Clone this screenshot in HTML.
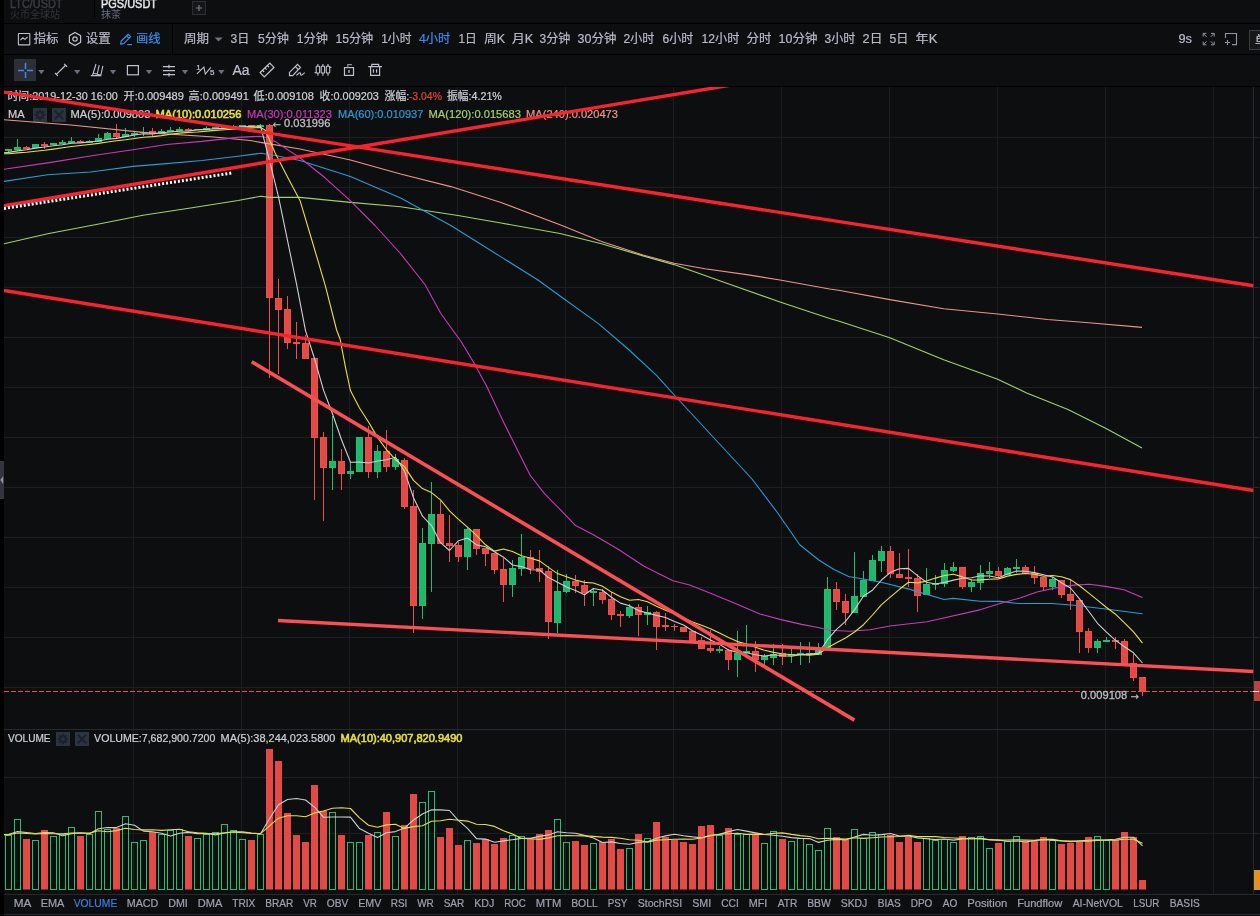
<!DOCTYPE html>
<html lang="zh"><head><meta charset="utf-8"><title>PGS/USDT</title>
<style>
html,body{margin:0;padding:0;background:#0d0e10;}
body{width:1260px;height:916px;overflow:hidden;position:relative;font-family:"Liberation Sans","Noto Sans CJK SC",sans-serif;}
svg{position:absolute;left:0;top:0;display:block;font-family:"Liberation Sans","Noto Sans CJK SC",sans-serif;}
</style></head><body>
<svg width="1260" height="916" viewBox="0 0 1260 916">
<defs><clipPath id="cm"><rect x="4" y="87" width="1249.5" height="642"/></clipPath>
<clipPath id="cv"><rect x="4" y="730" width="1249" height="164"/></clipPath>
<clipPath id="ct"><rect x="0" y="0" width="1260" height="23"/></clipPath>
<clipPath id="cb"><rect x="1249" y="30" width="11" height="20"/></clipPath></defs>
<rect width="1260" height="916" fill="#0d0e10"/>

<g id="sidebar-handle">
<rect x="0" y="0" width="4" height="916" fill="#000"/>
<rect x="0" y="461" width="4" height="38" fill="#33343c"/>
<path d="M3.2 476 L0.3 480 L3.2 484 Z" fill="#8f93a3"/>
</g><g id="symbol-tabs">
<g clip-path="url(#ct)">
<text x="10" y="7.7" font-size="13" fill="#3a3c42" textLength="52.6" lengthAdjust="spacingAndGlyphs"  stroke="#3a3c42" stroke-width="0.5">LTC/USDT</text>
<text x="10" y="18.2" font-size="10" fill="#33353b" textLength="50" lengthAdjust="spacingAndGlyphs" >火币全球站</text>
<rect x="94" y="0" width="1" height="17" fill="#000"/>
<text x="101" y="7.7" font-size="13" fill="#e6e7ea" textLength="56" lengthAdjust="spacingAndGlyphs"  stroke="#e6e7ea" stroke-width="0.5">PGS/USDT</text>
<text x="101" y="18.2" font-size="10" fill="#666b7e" textLength="20" lengthAdjust="spacingAndGlyphs" >抹茶</text>
<rect x="192.5" y="1.5" width="13" height="13" fill="#15161a" stroke="#2c2e34"/>
<path d="M196 8H202M199 5V11" stroke="#777a84" stroke-width="1.2" fill="none"/>
</g>
<rect x="0" y="23" width="1260" height="1" fill="#000"/>
<rect x="4" y="54" width="1256" height="1" fill="#000"/>
<rect x="4" y="86" width="1256" height="1" fill="#000"/>
<rect x="172" y="24" width="1" height="30" fill="#000"/>
</g><g id="toolbar-periods">
<rect x="18.4" y="33.5" width="11.4" height="11.4" rx="0.4" fill="none" stroke="#bcc1ce" stroke-width="1.1"/>
<path d="M20.4 40.2L22.8 37.8L25 39.4L27.6 36.8" fill="none" stroke="#bcc1ce" stroke-width="1.1"/>
<text x="33.5" y="43" font-size="12" fill="#b6bac6" textLength="25" lengthAdjust="spacingAndGlyphs"  stroke="#b6bac6" stroke-width="0.22">指标</text>
<path d="M75 32.4L80.6 35.7V42.3L75 45.6L69.4 42.3V35.7Z" fill="none" stroke="#bcc1ce" stroke-width="1.2"/>
<circle cx="75" cy="39" r="2.2" fill="none" stroke="#bcc1ce" stroke-width="1.2"/>
<text x="85.8" y="43" font-size="12" fill="#b6bac6" textLength="25" lengthAdjust="spacingAndGlyphs"  stroke="#b6bac6" stroke-width="0.22">设置</text>
<path d="M120.6 44.2L121.2 41L128.2 34.2L130.6 36.6L123.8 43.6Z M126.6 35.8L129 38.2" fill="none" stroke="#3d8bee" stroke-width="1.2" stroke-linejoin="round"/>
<path d="M127.3 44.6H132" stroke="#3d8bee" stroke-width="1.2"/>
<text x="136" y="43" font-size="12" fill="#3d8bee" textLength="24.5" lengthAdjust="spacingAndGlyphs"  stroke="#3d8bee" stroke-width="0.22">画线</text>
<text x="184" y="43" font-size="12" fill="#b6bac6" textLength="25" lengthAdjust="spacingAndGlyphs"  stroke="#b6bac6" stroke-width="0.22">周期</text>
<path d="M214.6 37.4H222.6L218.6 41.4Z" fill="#6f727c"/>
<text x="230.6" y="43" font-size="12" fill="#b6bac6" textLength="18.8" lengthAdjust="spacingAndGlyphs"  stroke="#b6bac6" stroke-width="0.22">3日</text>
<text x="257.9" y="43" font-size="12" fill="#b6bac6" textLength="31.0" lengthAdjust="spacingAndGlyphs"  stroke="#b6bac6" stroke-width="0.22">5分钟</text>
<text x="296.8" y="43" font-size="12" fill="#b6bac6" textLength="31.1" lengthAdjust="spacingAndGlyphs"  stroke="#b6bac6" stroke-width="0.22">1分钟</text>
<text x="335.4" y="43" font-size="12" fill="#b6bac6" textLength="37.8" lengthAdjust="spacingAndGlyphs"  stroke="#b6bac6" stroke-width="0.22">15分钟</text>
<text x="381.3" y="43" font-size="12" fill="#b6bac6" textLength="30.2" lengthAdjust="spacingAndGlyphs"  stroke="#b6bac6" stroke-width="0.22">1小时</text>
<text x="419.0" y="43" font-size="12" fill="#3d8bee" textLength="31.4" lengthAdjust="spacingAndGlyphs"  stroke="#3d8bee" stroke-width="0.22">4小时</text>
<text x="458.5" y="43" font-size="12" fill="#b6bac6" textLength="18.3" lengthAdjust="spacingAndGlyphs"  stroke="#b6bac6" stroke-width="0.22">1日</text>
<text x="484.3" y="43" font-size="12" fill="#b6bac6" textLength="20.8" lengthAdjust="spacingAndGlyphs"  stroke="#b6bac6" stroke-width="0.22">周K</text>
<text x="512.1" y="43" font-size="12" fill="#b6bac6" textLength="21.3" lengthAdjust="spacingAndGlyphs"  stroke="#b6bac6" stroke-width="0.22">月K</text>
<text x="539.6" y="43" font-size="12" fill="#b6bac6" textLength="30.8" lengthAdjust="spacingAndGlyphs"  stroke="#b6bac6" stroke-width="0.22">3分钟</text>
<text x="577.6" y="43" font-size="12" fill="#b6bac6" textLength="38.8" lengthAdjust="spacingAndGlyphs"  stroke="#b6bac6" stroke-width="0.22">30分钟</text>
<text x="623.6" y="43" font-size="12" fill="#b6bac6" textLength="30.8" lengthAdjust="spacingAndGlyphs"  stroke="#b6bac6" stroke-width="0.22">2小时</text>
<text x="662.6" y="43" font-size="12" fill="#b6bac6" textLength="30.8" lengthAdjust="spacingAndGlyphs"  stroke="#b6bac6" stroke-width="0.22">6小时</text>
<text x="701.6" y="43" font-size="12" fill="#b6bac6" textLength="37.8" lengthAdjust="spacingAndGlyphs"  stroke="#b6bac6" stroke-width="0.22">12小时</text>
<text x="746.6" y="43" font-size="12" fill="#b6bac6" textLength="24.8" lengthAdjust="spacingAndGlyphs"  stroke="#b6bac6" stroke-width="0.22">分时</text>
<text x="778.6" y="43" font-size="12" fill="#b6bac6" textLength="38.8" lengthAdjust="spacingAndGlyphs"  stroke="#b6bac6" stroke-width="0.22">10分钟</text>
<text x="824.6" y="43" font-size="12" fill="#b6bac6" textLength="30.8" lengthAdjust="spacingAndGlyphs"  stroke="#b6bac6" stroke-width="0.22">3小时</text>
<text x="862.6" y="43" font-size="12" fill="#b6bac6" textLength="19.8" lengthAdjust="spacingAndGlyphs"  stroke="#b6bac6" stroke-width="0.22">2日</text>
<text x="889.6" y="43" font-size="12" fill="#b6bac6" textLength="18.8" lengthAdjust="spacingAndGlyphs"  stroke="#b6bac6" stroke-width="0.22">5日</text>
<text x="915.6" y="43" font-size="12" fill="#b6bac6" textLength="21.8" lengthAdjust="spacingAndGlyphs"  stroke="#b6bac6" stroke-width="0.22">年K</text>
<text x="1178.5" y="43" font-size="12" fill="#b6bac6" textLength="13.5" lengthAdjust="spacingAndGlyphs"  stroke="#b6bac6" stroke-width="0.22">9s</text>
<path d="M1203.2 36.6V33.4H1206.4M1203.4 33.6L1206.6 36.8 M1211 33.4H1214.2V36.6M1214 33.6L1210.8 36.8 M1203.2 41.6V44.8H1206.4M1203.4 44.6L1206.6 41.4 M1211 44.8H1214.2V41.6M1214 44.6L1210.8 41.4" fill="none" stroke="#8f93a3" stroke-width="1"/>
<path d="M1225.5 38V33.5H1236.5V44.6H1232 M1225 42.5H1230M1227.5 40V45" fill="none" stroke="#8f93a3" stroke-width="1.1"/>
<rect x="1249.5" y="30.5" width="14" height="19" fill="#17181b" stroke="#3a3c44"/>
<g clip-path="url(#cb)">
<text x="1255" y="45" font-size="12" fill="#c4c8d2"  stroke="#c4c8d2" stroke-width="0.22">单</text>
</g>
</g><g id="toolbar-drawing">
<rect x="14" y="59" width="22" height="22" fill="#2d2e36"/>
<path d="M18 70.5H24M27 70.5H33M25.5 63V69M25.5 72V78" stroke="#3d8bee" stroke-width="1.5" fill="none"/>
<path d="M38.099999999999994 70.1H44.5L41.3 74.2Z" fill="#6b6d7a"/>
<path d="M56.4 74.4L65.6 65.3 M55 73L57.9 75.9 M64.1 63.9L67.1 66.8" stroke="#bcc1ce" stroke-width="1.2" fill="none"/>
<path d="M74.0 70.1H80.4L77.2 74.2Z" fill="#6b6d7a"/>
<path d="M90.8 75.6H101.4 M92.5 75.5L96 64 M97.2 74L99.2 65.2 M100.8 75.5L102.9 65.8 M93 73L101 75.2" stroke="#bcc1ce" stroke-width="1.1" fill="none"/>
<path d="M109.8 70.1H116.2L113 74.2Z" fill="#6b6d7a"/>
<rect x="127.4" y="65.6" width="11" height="9.2" fill="none" stroke="#bcc1ce" stroke-width="1.2"/>
<path d="M145.8 70.1H152.2L149 74.2Z" fill="#6b6d7a"/>
<path d="M163 66.6H175M163 70.6H175M163 74.6H175M169 64.8V68.2M169 73V76.4" stroke="#bcc1ce" stroke-width="1.2" fill="none"/>
<path d="M181.8 70.1H188.2L185 74.2Z" fill="#6b6d7a"/>
<path d="M196.9 73.9L203.9 67.2L205.3 74.1L210.8 67.3" stroke="#bcc1ce" stroke-width="1.1" fill="none"/>
<text x="196.2" y="70" font-size="8" fill="#bcc1ce"  stroke="#bcc1ce" stroke-width="0.22">1</text>
<text x="210" y="74.5" font-size="8" fill="#bcc1ce"  stroke="#bcc1ce" stroke-width="0.22">5</text>
<path d="M218.10000000000002 70.1H224.5L221.3 74.2Z" fill="#6b6d7a"/>
<text x="232.6" y="74.8" font-size="14" fill="#bcc1ce" textLength="17" lengthAdjust="spacingAndGlyphs"  stroke="#bcc1ce" stroke-width="0.22">Aa</text>
<g transform="rotate(-44.5 267.05 70)" fill="none" stroke="#bcc1ce" stroke-width="1.2"><rect x="260.25" y="67" width="13.6" height="6"/><path d="M263.6 67V69.4M267 67V69.4M270.4 67V69.4"/></g>
<path d="M289.5 75.7V72.4L297.5 64.4L300.4 67.4L292.6 75.7Z M295.4 66.6L298.3 69.6" fill="none" stroke="#bcc1ce" stroke-width="1.2" stroke-linejoin="miter"/>
<path d="M296.4 75.4L299.2 73C300.4 72.2 300.6 73.2 300.6 74.2C300.6 75.6 301.6 75.4 302.6 74.4L304.8 72.6" fill="none" stroke="#bcc1ce" stroke-width="1.1"/>
<path d="M317.9 64V75.8M322.9 64V75.8M328 64V75.8 M314.6 72.6H316.4 M329.6 67.4H331.4" stroke="#bcc1ce" stroke-width="1.1" fill="none"/>
<rect x="316.2" y="66.2" width="3.4" height="6.8" rx="0.6" fill="#0d0e10" stroke="#bcc1ce" stroke-width="1.1"/>
<rect x="321.2" y="66.2" width="3.4" height="6.8" rx="0.6" fill="#0d0e10" stroke="#bcc1ce" stroke-width="1.1"/>
<rect x="326.3" y="66.2" width="3.4" height="6.8" rx="0.6" fill="#0d0e10" stroke="#bcc1ce" stroke-width="1.1"/>
<rect x="344.5" y="67.6" width="9" height="7.8" fill="none" stroke="#bcc1ce" stroke-width="1.2"/>
<path d="M347.8 67.4V64.6H351.9" fill="none" stroke="#8d919c" stroke-width="1.2"/>
<rect x="348" y="69.9" width="2" height="3" fill="#7d818c"/>
<path d="M368.2 66.6H382 M371.8 66.6V64.4H378.6V66.6 M370.6 66.6V75.4H379.6V66.6 M373.5 69.2V72.8M376.6 69.2V72.8" fill="none" stroke="#bcc1ce" stroke-width="1.2"/>
</g><g id="chart-grid">
<rect x="133.0" y="87" width="1" height="808" fill="#1d1e22"/>
<rect x="241.0" y="87" width="1" height="808" fill="#1d1e22"/>
<rect x="349.0" y="87" width="1" height="808" fill="#1d1e22"/>
<rect x="457.0" y="87" width="1" height="808" fill="#1d1e22"/>
<rect x="565.0" y="87" width="1" height="808" fill="#1d1e22"/>
<rect x="673.0" y="87" width="1" height="808" fill="#1d1e22"/>
<rect x="781.0" y="87" width="1" height="808" fill="#1d1e22"/>
<rect x="889.0" y="87" width="1" height="808" fill="#1d1e22"/>
<rect x="997.0" y="87" width="1" height="808" fill="#1d1e22"/>
<rect x="1105.0" y="87" width="1" height="808" fill="#1d1e22"/>
<rect x="1213.0" y="87" width="1" height="808" fill="#1d1e22"/>
<rect x="4" y="137" width="1255" height="1" fill="#1d1e22"/>
<rect x="4" y="187" width="1255" height="1" fill="#1d1e22"/>
<rect x="4" y="237" width="1255" height="1" fill="#1d1e22"/>
<rect x="4" y="287" width="1255" height="1" fill="#1d1e22"/>
<rect x="4" y="337" width="1255" height="1" fill="#1d1e22"/>
<rect x="4" y="387" width="1255" height="1" fill="#1d1e22"/>
<rect x="4" y="437" width="1255" height="1" fill="#1d1e22"/>
<rect x="4" y="487" width="1255" height="1" fill="#1d1e22"/>
<rect x="4" y="537" width="1255" height="1" fill="#1d1e22"/>
<rect x="4" y="587" width="1255" height="1" fill="#1d1e22"/>
<rect x="4" y="637" width="1255" height="1" fill="#1d1e22"/>
<rect x="4" y="687" width="1255" height="1" fill="#1d1e22"/>
<rect x="4" y="777" width="1255" height="1" fill="#1d1e22"/>
<rect x="4" y="833" width="1255" height="1" fill="#1d1e22"/>
<rect x="1253" y="87" width="1" height="808" fill="#28292f"/>
<rect x="1254" y="87" width="6" height="808" fill="#0d0e10"/>
<rect x="1254" y="137" width="5" height="1" fill="#28292f"/>
<rect x="1254" y="187" width="5" height="1" fill="#28292f"/>
<rect x="1254" y="237" width="5" height="1" fill="#28292f"/>
<rect x="1254" y="287" width="5" height="1" fill="#28292f"/>
<rect x="1254" y="337" width="5" height="1" fill="#28292f"/>
<rect x="1254" y="387" width="5" height="1" fill="#28292f"/>
<rect x="1254" y="437" width="5" height="1" fill="#28292f"/>
<rect x="1254" y="487" width="5" height="1" fill="#28292f"/>
<rect x="1254" y="537" width="5" height="1" fill="#28292f"/>
<rect x="1254" y="587" width="5" height="1" fill="#28292f"/>
<rect x="1254" y="637" width="5" height="1" fill="#28292f"/>
<rect x="1254" y="687" width="5" height="1" fill="#28292f"/>
<rect x="1254" y="777" width="5" height="1" fill="#28292f"/>
<rect x="1254" y="833" width="5" height="1" fill="#28292f"/>
<rect x="4" y="729" width="1256" height="1" fill="#28292f"/>
<rect x="4" y="894" width="1256" height="1" fill="#28292f"/>
<rect x="4" y="914" width="1256" height="1" fill="#28292f"/>
</g><g id="chart-legend">
<text x="7.5" y="100" font-size="11" fill="#cdd0d5" textLength="110.4" lengthAdjust="spacingAndGlyphs"  stroke="#cdd0d5" stroke-width="0.22">时间:2019-12-30 16:00</text>
<text x="123.6" y="100" font-size="11" fill="#cdd0d5" textLength="60.3" lengthAdjust="spacingAndGlyphs"  stroke="#cdd0d5" stroke-width="0.22">开:0.009489</text>
<text x="188.6" y="100" font-size="11" fill="#cdd0d5" textLength="60.3" lengthAdjust="spacingAndGlyphs"  stroke="#cdd0d5" stroke-width="0.22">高:0.009491</text>
<text x="253.6" y="100" font-size="11" fill="#cdd0d5" textLength="60.3" lengthAdjust="spacingAndGlyphs"  stroke="#cdd0d5" stroke-width="0.22">低:0.009108</text>
<text x="319.6" y="100" font-size="11" fill="#cdd0d5" textLength="59.3" lengthAdjust="spacingAndGlyphs"  stroke="#cdd0d5" stroke-width="0.22">收:0.009203</text>
<text x="384.6" y="100" font-size="11" fill="#cdd0d5" textLength="24.8" lengthAdjust="spacingAndGlyphs"  stroke="#cdd0d5" stroke-width="0.22">涨幅:</text>
<text x="408.9" y="100" font-size="11" fill="#e0443f" textLength="33.0" lengthAdjust="spacingAndGlyphs"  stroke="#e0443f" stroke-width="0.22">-3.04%</text>
<text x="447.1" y="100" font-size="11" fill="#cdd0d5" textLength="54.8" lengthAdjust="spacingAndGlyphs"  stroke="#cdd0d5" stroke-width="0.22">振幅:4.21%</text>
<text x="8" y="118" font-size="11" fill="#cdd0d5" textLength="16.6" lengthAdjust="spacingAndGlyphs"  stroke="#cdd0d5" stroke-width="0.22">MA</text>
<rect x="33" y="108" width="14" height="14" fill="#2c3440"/>
<rect x="52" y="108" width="14" height="14" fill="#2c3440"/>
<circle cx="40" cy="115" r="3.7" fill="#1e2128"/>
<path d="M40 109.7V120.3M34.7 115H45.3M36.25 111.25L43.75 118.75M43.75 111.25L36.25 118.75" stroke="#1e2128" stroke-width="2.1" fill="none"/>
<circle cx="40" cy="115" r="1.7" fill="#2c3440"/>
<path d="M54.8 110.8L63.2 119.2M63.2 110.8L54.8 119.2" stroke="#1e2128" stroke-width="2" fill="none"/>
<text x="70.6" y="118" font-size="11" fill="#cdd0d5" textLength="79.8" lengthAdjust="spacingAndGlyphs"  stroke="#cdd0d5" stroke-width="0.22">MA(5):0.009803</text>
<text x="155.6" y="118" font-size="11" fill="#e8e13a" textLength="85.8" lengthAdjust="spacingAndGlyphs"  stroke="#e8e13a" stroke-width="0.55">MA(10):0.010256</text>
<text x="247.1" y="118" font-size="11" fill="#c63cb5" textLength="84.8" lengthAdjust="spacingAndGlyphs"  stroke="#c63cb5" stroke-width="0.22">MA(30):0.011323</text>
<text x="338.1" y="118" font-size="11" fill="#2a9bd3" textLength="85.3" lengthAdjust="spacingAndGlyphs"  stroke="#2a9bd3" stroke-width="0.22">MA(60):0.010937</text>
<text x="428.6" y="118" font-size="11" fill="#a4cf6a" textLength="92.3" lengthAdjust="spacingAndGlyphs"  stroke="#a4cf6a" stroke-width="0.22">MA(120):0.015683</text>
<text x="526.1" y="118" font-size="11" fill="#e8958c" textLength="91.8" lengthAdjust="spacingAndGlyphs"  stroke="#e8958c" stroke-width="0.22">MA(240):0.020473</text>
</g><g id="chart-main">
<g clip-path="url(#cm)">
<rect x="8.0" y="149" width="1" height="3" fill="#21be72"/>
<rect x="5.0" y="149" width="7" height="2" fill="#21be72"/>
<rect x="17.0" y="139" width="1" height="11" fill="#21be72"/>
<rect x="14.5" y="147.5" width="6" height="2" fill="#1eb76b" stroke="#21be72" stroke-width="1"/>
<rect x="26.0" y="146" width="1" height="3" fill="#eb4f49"/>
<rect x="23.0" y="147" width="7" height="2" fill="#eb4f49"/>
<rect x="35.0" y="144" width="1" height="4" fill="#21be72"/>
<rect x="32.5" y="144.5" width="6" height="3" fill="#1eb76b" stroke="#21be72" stroke-width="1"/>
<rect x="44.0" y="142" width="1" height="7" fill="#eb4f49"/>
<rect x="41.0" y="144" width="7" height="2" fill="#eb4f49"/>
<rect x="53.0" y="143" width="1" height="2" fill="#21be72"/>
<rect x="50.0" y="143" width="7" height="2" fill="#21be72"/>
<rect x="62.0" y="140" width="1" height="4" fill="#21be72"/>
<rect x="59.0" y="142" width="7" height="2" fill="#21be72"/>
<rect x="71.0" y="137" width="1" height="6" fill="#21be72"/>
<rect x="68.0" y="141" width="7" height="2" fill="#21be72"/>
<rect x="80.0" y="140" width="1" height="3" fill="#eb4f49"/>
<rect x="77.0" y="141" width="7" height="2" fill="#eb4f49"/>
<rect x="89.0" y="140" width="1" height="3" fill="#21be72"/>
<rect x="86.0" y="141" width="7" height="2" fill="#21be72"/>
<rect x="98.0" y="134" width="1" height="8" fill="#21be72"/>
<rect x="95.5" y="138.5" width="6" height="3" fill="#1eb76b" stroke="#21be72" stroke-width="1"/>
<rect x="107.0" y="132" width="1" height="7" fill="#21be72"/>
<rect x="104.5" y="133.5" width="6" height="5" fill="#1eb76b" stroke="#21be72" stroke-width="1"/>
<rect x="116.0" y="124" width="1" height="14" fill="#eb4f49"/>
<rect x="113.5" y="133.5" width="6" height="3" fill="#e34a45" stroke="#eb4f49" stroke-width="1"/>
<rect x="125.0" y="128" width="1" height="9" fill="#21be72"/>
<rect x="122.5" y="134.5" width="6" height="2" fill="#1eb76b" stroke="#21be72" stroke-width="1"/>
<rect x="134.0" y="132" width="1" height="5" fill="#21be72"/>
<rect x="131.0" y="133" width="7" height="2" fill="#21be72"/>
<rect x="143.0" y="127" width="1" height="9" fill="#21be72"/>
<rect x="140.0" y="132" width="7" height="1" fill="#21be72"/>
<rect x="152.0" y="128" width="1" height="8" fill="#eb4f49"/>
<rect x="149.5" y="131.5" width="6" height="2" fill="#e34a45" stroke="#eb4f49" stroke-width="1"/>
<rect x="161.0" y="129" width="1" height="5" fill="#21be72"/>
<rect x="158.5" y="131.5" width="6" height="2" fill="#1eb76b" stroke="#21be72" stroke-width="1"/>
<rect x="170.0" y="127" width="1" height="5" fill="#21be72"/>
<rect x="167.0" y="130" width="7" height="2" fill="#21be72"/>
<rect x="179.0" y="127" width="1" height="4" fill="#21be72"/>
<rect x="176.0" y="129" width="7" height="2" fill="#21be72"/>
<rect x="188.0" y="128" width="1" height="3" fill="#eb4f49"/>
<rect x="185.0" y="129" width="7" height="2" fill="#eb4f49"/>
<rect x="197.0" y="129" width="1" height="1" fill="#21be72"/>
<rect x="194.0" y="129" width="7" height="1" fill="#21be72"/>
<rect x="206.0" y="126" width="1" height="4" fill="#21be72"/>
<rect x="203.0" y="128" width="7" height="2" fill="#21be72"/>
<rect x="215.0" y="127" width="1" height="2" fill="#21be72"/>
<rect x="212.0" y="127" width="7" height="2" fill="#21be72"/>
<rect x="224.0" y="127" width="1" height="2" fill="#21be72"/>
<rect x="221.0" y="127" width="7" height="2" fill="#21be72"/>
<rect x="233.0" y="125" width="1" height="3" fill="#21be72"/>
<rect x="230.0" y="126" width="7" height="2" fill="#21be72"/>
<rect x="242.0" y="125" width="1" height="2" fill="#21be72"/>
<rect x="239.0" y="125" width="7" height="2" fill="#21be72"/>
<rect x="251.0" y="125" width="1" height="1" fill="#eb4f49"/>
<rect x="248.0" y="125" width="7" height="1" fill="#eb4f49"/>
<rect x="260.0" y="124" width="1" height="3" fill="#21be72"/>
<rect x="257.0" y="125" width="7" height="2" fill="#21be72"/>
<rect x="269.0" y="124" width="1" height="254" fill="#eb4f49"/>
<rect x="266.5" y="125.5" width="6" height="172" fill="#e34a45" stroke="#eb4f49" stroke-width="1"/>
<rect x="278.0" y="279" width="1" height="95" fill="#eb4f49"/>
<rect x="275.5" y="298.5" width="6" height="11" fill="#e34a45" stroke="#eb4f49" stroke-width="1"/>
<rect x="287.0" y="296" width="1" height="53" fill="#eb4f49"/>
<rect x="284.5" y="309.5" width="6" height="33" fill="#e34a45" stroke="#eb4f49" stroke-width="1"/>
<rect x="296.0" y="322" width="1" height="37" fill="#eb4f49"/>
<rect x="293.0" y="342" width="7" height="2" fill="#eb4f49"/>
<rect x="305.0" y="335" width="1" height="24" fill="#eb4f49"/>
<rect x="302.5" y="343.5" width="6" height="15" fill="#e34a45" stroke="#eb4f49" stroke-width="1"/>
<rect x="314.0" y="358" width="1" height="142" fill="#eb4f49"/>
<rect x="311.5" y="358.5" width="6" height="79" fill="#e34a45" stroke="#eb4f49" stroke-width="1"/>
<rect x="323.0" y="432" width="1" height="89" fill="#eb4f49"/>
<rect x="320.5" y="437.5" width="6" height="30" fill="#e34a45" stroke="#eb4f49" stroke-width="1"/>
<rect x="332.0" y="416" width="1" height="74" fill="#21be72"/>
<rect x="329.5" y="461.5" width="6" height="6" fill="#1eb76b" stroke="#21be72" stroke-width="1"/>
<rect x="341.0" y="449" width="1" height="41" fill="#eb4f49"/>
<rect x="338.5" y="461.5" width="6" height="12" fill="#e34a45" stroke="#eb4f49" stroke-width="1"/>
<rect x="350.0" y="462" width="1" height="17" fill="#21be72"/>
<rect x="347.5" y="471.5" width="6" height="2" fill="#1eb76b" stroke="#21be72" stroke-width="1"/>
<rect x="359.0" y="437" width="1" height="35" fill="#21be72"/>
<rect x="356.5" y="437.5" width="6" height="34" fill="#1eb76b" stroke="#21be72" stroke-width="1"/>
<rect x="368.0" y="426" width="1" height="52" fill="#eb4f49"/>
<rect x="365.5" y="437.5" width="6" height="34" fill="#e34a45" stroke="#eb4f49" stroke-width="1"/>
<rect x="377.0" y="445" width="1" height="33" fill="#21be72"/>
<rect x="374.5" y="451.5" width="6" height="20" fill="#1eb76b" stroke="#21be72" stroke-width="1"/>
<rect x="386.0" y="430" width="1" height="42" fill="#eb4f49"/>
<rect x="383.5" y="451.5" width="6" height="15" fill="#e34a45" stroke="#eb4f49" stroke-width="1"/>
<rect x="395.0" y="454" width="1" height="16" fill="#21be72"/>
<rect x="392.5" y="459.5" width="6" height="7" fill="#1eb76b" stroke="#21be72" stroke-width="1"/>
<rect x="404.0" y="458" width="1" height="51" fill="#eb4f49"/>
<rect x="401.5" y="460.5" width="6" height="46" fill="#e34a45" stroke="#eb4f49" stroke-width="1"/>
<rect x="413.0" y="490" width="1" height="143" fill="#eb4f49"/>
<rect x="410.5" y="506.5" width="6" height="99" fill="#e34a45" stroke="#eb4f49" stroke-width="1"/>
<rect x="422.0" y="528" width="1" height="91" fill="#21be72"/>
<rect x="419.5" y="543.5" width="6" height="62" fill="#1eb76b" stroke="#21be72" stroke-width="1"/>
<rect x="431.0" y="482" width="1" height="110" fill="#21be72"/>
<rect x="428.5" y="514.5" width="6" height="29" fill="#1eb76b" stroke="#21be72" stroke-width="1"/>
<rect x="440.0" y="501" width="1" height="43" fill="#eb4f49"/>
<rect x="437.5" y="514.5" width="6" height="29" fill="#e34a45" stroke="#eb4f49" stroke-width="1"/>
<rect x="449.0" y="515" width="1" height="47" fill="#eb4f49"/>
<rect x="446.5" y="543.5" width="6" height="2" fill="#e34a45" stroke="#eb4f49" stroke-width="1"/>
<rect x="458.0" y="542" width="1" height="20" fill="#eb4f49"/>
<rect x="455.5" y="545.5" width="6" height="11" fill="#e34a45" stroke="#eb4f49" stroke-width="1"/>
<rect x="467.0" y="527" width="1" height="43" fill="#21be72"/>
<rect x="464.5" y="529.5" width="6" height="27" fill="#1eb76b" stroke="#21be72" stroke-width="1"/>
<rect x="476.0" y="529" width="1" height="26" fill="#eb4f49"/>
<rect x="473.5" y="529.5" width="6" height="19" fill="#e34a45" stroke="#eb4f49" stroke-width="1"/>
<rect x="485.0" y="548" width="1" height="18" fill="#eb4f49"/>
<rect x="482.5" y="548.5" width="6" height="5" fill="#e34a45" stroke="#eb4f49" stroke-width="1"/>
<rect x="494.0" y="553" width="1" height="21" fill="#eb4f49"/>
<rect x="491.5" y="553.5" width="6" height="16" fill="#e34a45" stroke="#eb4f49" stroke-width="1"/>
<rect x="503.0" y="558" width="1" height="44" fill="#eb4f49"/>
<rect x="500.5" y="569.5" width="6" height="15" fill="#e34a45" stroke="#eb4f49" stroke-width="1"/>
<rect x="512.0" y="560" width="1" height="37" fill="#21be72"/>
<rect x="509.5" y="568.5" width="6" height="16" fill="#1eb76b" stroke="#21be72" stroke-width="1"/>
<rect x="521.0" y="534" width="1" height="42" fill="#21be72"/>
<rect x="518.5" y="557.5" width="6" height="11" fill="#1eb76b" stroke="#21be72" stroke-width="1"/>
<rect x="530.0" y="550" width="1" height="24" fill="#eb4f49"/>
<rect x="527.5" y="557.5" width="6" height="11" fill="#e34a45" stroke="#eb4f49" stroke-width="1"/>
<rect x="539.0" y="550" width="1" height="32" fill="#eb4f49"/>
<rect x="536.5" y="568.5" width="6" height="3" fill="#e34a45" stroke="#eb4f49" stroke-width="1"/>
<rect x="548.0" y="566" width="1" height="73" fill="#eb4f49"/>
<rect x="545.5" y="571.5" width="6" height="50" fill="#e34a45" stroke="#eb4f49" stroke-width="1"/>
<rect x="557.0" y="570" width="1" height="63" fill="#21be72"/>
<rect x="554.5" y="591.5" width="6" height="31" fill="#1eb76b" stroke="#21be72" stroke-width="1"/>
<rect x="566.0" y="574" width="1" height="19" fill="#21be72"/>
<rect x="563.5" y="581.5" width="6" height="10" fill="#1eb76b" stroke="#21be72" stroke-width="1"/>
<rect x="575.0" y="575" width="1" height="18" fill="#eb4f49"/>
<rect x="572.5" y="581.5" width="6" height="4" fill="#e34a45" stroke="#eb4f49" stroke-width="1"/>
<rect x="584.0" y="580" width="1" height="26" fill="#eb4f49"/>
<rect x="581.5" y="585.5" width="6" height="7" fill="#e34a45" stroke="#eb4f49" stroke-width="1"/>
<rect x="593.0" y="589" width="1" height="17" fill="#21be72"/>
<rect x="590.0" y="591" width="7" height="2" fill="#21be72"/>
<rect x="602.0" y="589" width="1" height="15" fill="#eb4f49"/>
<rect x="599.5" y="592.5" width="6" height="7" fill="#e34a45" stroke="#eb4f49" stroke-width="1"/>
<rect x="611.0" y="592" width="1" height="28" fill="#eb4f49"/>
<rect x="608.5" y="599.5" width="6" height="15" fill="#e34a45" stroke="#eb4f49" stroke-width="1"/>
<rect x="620.0" y="611" width="1" height="16" fill="#eb4f49"/>
<rect x="617.0" y="614" width="7" height="2" fill="#eb4f49"/>
<rect x="629.0" y="604" width="1" height="14" fill="#21be72"/>
<rect x="626.5" y="607.5" width="6" height="8" fill="#1eb76b" stroke="#21be72" stroke-width="1"/>
<rect x="638.0" y="604" width="1" height="32" fill="#eb4f49"/>
<rect x="635.5" y="607.5" width="6" height="7" fill="#e34a45" stroke="#eb4f49" stroke-width="1"/>
<rect x="647.0" y="606" width="1" height="19" fill="#21be72"/>
<rect x="644.5" y="612.5" width="6" height="2" fill="#1eb76b" stroke="#21be72" stroke-width="1"/>
<rect x="656.0" y="611" width="1" height="39" fill="#eb4f49"/>
<rect x="653.5" y="612.5" width="6" height="14" fill="#e34a45" stroke="#eb4f49" stroke-width="1"/>
<rect x="665.0" y="613" width="1" height="18" fill="#eb4f49"/>
<rect x="662.0" y="625" width="7" height="2" fill="#eb4f49"/>
<rect x="674.0" y="624" width="1" height="7" fill="#eb4f49"/>
<rect x="671.0" y="626" width="7" height="1" fill="#eb4f49"/>
<rect x="683.0" y="627" width="1" height="5" fill="#eb4f49"/>
<rect x="680.5" y="627.5" width="6" height="4" fill="#e34a45" stroke="#eb4f49" stroke-width="1"/>
<rect x="692.0" y="631" width="1" height="10" fill="#eb4f49"/>
<rect x="689.5" y="631.5" width="6" height="9" fill="#e34a45" stroke="#eb4f49" stroke-width="1"/>
<rect x="701.0" y="637" width="1" height="12" fill="#eb4f49"/>
<rect x="698.5" y="640.5" width="6" height="8" fill="#e34a45" stroke="#eb4f49" stroke-width="1"/>
<rect x="710.0" y="630" width="1" height="23" fill="#eb4f49"/>
<rect x="707.5" y="648.5" width="6" height="2" fill="#e34a45" stroke="#eb4f49" stroke-width="1"/>
<rect x="719.0" y="646" width="1" height="7" fill="#21be72"/>
<rect x="716.0" y="649" width="7" height="2" fill="#21be72"/>
<rect x="728.0" y="649" width="1" height="21" fill="#eb4f49"/>
<rect x="725.5" y="650.5" width="6" height="9" fill="#e34a45" stroke="#eb4f49" stroke-width="1"/>
<rect x="737.0" y="631" width="1" height="46" fill="#21be72"/>
<rect x="734.5" y="653.5" width="6" height="6" fill="#1eb76b" stroke="#21be72" stroke-width="1"/>
<rect x="746.0" y="625" width="1" height="29" fill="#21be72"/>
<rect x="743.0" y="651" width="7" height="2" fill="#21be72"/>
<rect x="755.0" y="641" width="1" height="31" fill="#eb4f49"/>
<rect x="752.5" y="651.5" width="6" height="8" fill="#e34a45" stroke="#eb4f49" stroke-width="1"/>
<rect x="764.0" y="654" width="1" height="11" fill="#21be72"/>
<rect x="761.5" y="656.5" width="6" height="3" fill="#1eb76b" stroke="#21be72" stroke-width="1"/>
<rect x="773.0" y="644" width="1" height="21" fill="#21be72"/>
<rect x="770.5" y="654.5" width="6" height="3" fill="#1eb76b" stroke="#21be72" stroke-width="1"/>
<rect x="782.0" y="644" width="1" height="21" fill="#eb4f49"/>
<rect x="779.5" y="653.5" width="6" height="3" fill="#e34a45" stroke="#eb4f49" stroke-width="1"/>
<rect x="791.0" y="649" width="1" height="14" fill="#21be72"/>
<rect x="788.0" y="654" width="7" height="2" fill="#21be72"/>
<rect x="800.0" y="642" width="1" height="23" fill="#21be72"/>
<rect x="797.0" y="653" width="7" height="2" fill="#21be72"/>
<rect x="809.0" y="642" width="1" height="21" fill="#21be72"/>
<rect x="806.0" y="653" width="7" height="2" fill="#21be72"/>
<rect x="818.0" y="643" width="1" height="12" fill="#21be72"/>
<rect x="815.5" y="650.5" width="6" height="4" fill="#1eb76b" stroke="#21be72" stroke-width="1"/>
<rect x="827.0" y="577" width="1" height="71" fill="#21be72"/>
<rect x="824.5" y="589.5" width="6" height="58" fill="#1eb76b" stroke="#21be72" stroke-width="1"/>
<rect x="836.0" y="582" width="1" height="28" fill="#eb4f49"/>
<rect x="833.5" y="589.5" width="6" height="12" fill="#e34a45" stroke="#eb4f49" stroke-width="1"/>
<rect x="845.0" y="594" width="1" height="31" fill="#eb4f49"/>
<rect x="842.5" y="601.5" width="6" height="11" fill="#e34a45" stroke="#eb4f49" stroke-width="1"/>
<rect x="854.0" y="552" width="1" height="61" fill="#21be72"/>
<rect x="851.5" y="596.5" width="6" height="16" fill="#1eb76b" stroke="#21be72" stroke-width="1"/>
<rect x="863.0" y="571" width="1" height="26" fill="#21be72"/>
<rect x="860.5" y="580.5" width="6" height="16" fill="#1eb76b" stroke="#21be72" stroke-width="1"/>
<rect x="872.0" y="555" width="1" height="26" fill="#21be72"/>
<rect x="869.5" y="560.5" width="6" height="20" fill="#1eb76b" stroke="#21be72" stroke-width="1"/>
<rect x="881.0" y="546" width="1" height="26" fill="#21be72"/>
<rect x="878.5" y="551.5" width="6" height="9" fill="#1eb76b" stroke="#21be72" stroke-width="1"/>
<rect x="890.0" y="546" width="1" height="32" fill="#eb4f49"/>
<rect x="887.5" y="551.5" width="6" height="22" fill="#e34a45" stroke="#eb4f49" stroke-width="1"/>
<rect x="899.0" y="553" width="1" height="25" fill="#eb4f49"/>
<rect x="896.5" y="574.5" width="6" height="3" fill="#e34a45" stroke="#eb4f49" stroke-width="1"/>
<rect x="908.0" y="549" width="1" height="38" fill="#eb4f49"/>
<rect x="905.0" y="577" width="7" height="2" fill="#eb4f49"/>
<rect x="917.0" y="574" width="1" height="38" fill="#eb4f49"/>
<rect x="914.5" y="578.5" width="6" height="17" fill="#e34a45" stroke="#eb4f49" stroke-width="1"/>
<rect x="926.0" y="568" width="1" height="27" fill="#21be72"/>
<rect x="923.5" y="584.5" width="6" height="10" fill="#1eb76b" stroke="#21be72" stroke-width="1"/>
<rect x="935.0" y="575" width="1" height="15" fill="#21be72"/>
<rect x="932.0" y="583" width="7" height="2" fill="#21be72"/>
<rect x="944.0" y="563" width="1" height="24" fill="#21be72"/>
<rect x="941.5" y="570.5" width="6" height="13" fill="#1eb76b" stroke="#21be72" stroke-width="1"/>
<rect x="953.0" y="562" width="1" height="10" fill="#21be72"/>
<rect x="950.5" y="567.5" width="6" height="3" fill="#1eb76b" stroke="#21be72" stroke-width="1"/>
<rect x="962.0" y="567" width="1" height="22" fill="#eb4f49"/>
<rect x="959.5" y="567.5" width="6" height="19" fill="#e34a45" stroke="#eb4f49" stroke-width="1"/>
<rect x="971.0" y="579" width="1" height="13" fill="#21be72"/>
<rect x="968.5" y="582.5" width="6" height="4" fill="#1eb76b" stroke="#21be72" stroke-width="1"/>
<rect x="980.0" y="565" width="1" height="25" fill="#21be72"/>
<rect x="977.5" y="573.5" width="6" height="9" fill="#1eb76b" stroke="#21be72" stroke-width="1"/>
<rect x="989.0" y="562" width="1" height="16" fill="#21be72"/>
<rect x="986.5" y="571.5" width="6" height="2" fill="#1eb76b" stroke="#21be72" stroke-width="1"/>
<rect x="998.0" y="567" width="1" height="10" fill="#eb4f49"/>
<rect x="995.5" y="571.5" width="6" height="4" fill="#e34a45" stroke="#eb4f49" stroke-width="1"/>
<rect x="1007.0" y="567" width="1" height="8" fill="#21be72"/>
<rect x="1004.5" y="568.5" width="6" height="6" fill="#1eb76b" stroke="#21be72" stroke-width="1"/>
<rect x="1016.0" y="559" width="1" height="14" fill="#21be72"/>
<rect x="1013.0" y="567" width="7" height="2" fill="#21be72"/>
<rect x="1025.0" y="565" width="1" height="9" fill="#eb4f49"/>
<rect x="1022.5" y="567.5" width="6" height="6" fill="#e34a45" stroke="#eb4f49" stroke-width="1"/>
<rect x="1034.0" y="566" width="1" height="18" fill="#eb4f49"/>
<rect x="1031.5" y="573.5" width="6" height="4" fill="#e34a45" stroke="#eb4f49" stroke-width="1"/>
<rect x="1043.0" y="577" width="1" height="13" fill="#eb4f49"/>
<rect x="1040.5" y="577.5" width="6" height="9" fill="#e34a45" stroke="#eb4f49" stroke-width="1"/>
<rect x="1052.0" y="577" width="1" height="13" fill="#21be72"/>
<rect x="1049.5" y="579.5" width="6" height="7" fill="#1eb76b" stroke="#21be72" stroke-width="1"/>
<rect x="1061.0" y="580" width="1" height="18" fill="#eb4f49"/>
<rect x="1058.5" y="580.5" width="6" height="14" fill="#e34a45" stroke="#eb4f49" stroke-width="1"/>
<rect x="1070.0" y="580" width="1" height="30" fill="#eb4f49"/>
<rect x="1067.5" y="594.5" width="6" height="6" fill="#e34a45" stroke="#eb4f49" stroke-width="1"/>
<rect x="1079.0" y="600" width="1" height="53" fill="#eb4f49"/>
<rect x="1076.5" y="600.5" width="6" height="31" fill="#e34a45" stroke="#eb4f49" stroke-width="1"/>
<rect x="1088.0" y="628" width="1" height="25" fill="#eb4f49"/>
<rect x="1085.5" y="631.5" width="6" height="16" fill="#e34a45" stroke="#eb4f49" stroke-width="1"/>
<rect x="1097.0" y="639" width="1" height="14" fill="#21be72"/>
<rect x="1094.5" y="641.5" width="6" height="6" fill="#1eb76b" stroke="#21be72" stroke-width="1"/>
<rect x="1106.0" y="637" width="1" height="5" fill="#21be72"/>
<rect x="1103.0" y="640" width="7" height="2" fill="#21be72"/>
<rect x="1115.0" y="637" width="1" height="12" fill="#eb4f49"/>
<rect x="1112.0" y="640" width="7" height="2" fill="#eb4f49"/>
<rect x="1124.0" y="639" width="1" height="25" fill="#eb4f49"/>
<rect x="1121.5" y="641.5" width="6" height="22" fill="#e34a45" stroke="#eb4f49" stroke-width="1"/>
<rect x="1133.0" y="654" width="1" height="27" fill="#eb4f49"/>
<rect x="1130.5" y="663.5" width="6" height="14" fill="#e34a45" stroke="#eb4f49" stroke-width="1"/>
<rect x="1142.0" y="677" width="1" height="19" fill="#eb4f49"/>
<rect x="1139.5" y="677.5" width="6" height="14" fill="#e34a45" stroke="#eb4f49" stroke-width="1"/>
<polyline fill="none" stroke="#e8958c" stroke-width="1.1" stroke-linejoin="round" points="4.0,119.8 71.0,125.0 143.0,132.4 214.0,137.0 250.0,140.5 262.0,142.6 300.0,149.0 350.4,160.0 400.6,174.0 450.8,186.6 501.0,202.4 560.0,224.7 601.5,241.4 643.0,255.0 674.0,263.3 705.0,268.7 746.7,274.6 780.0,280.0 829.7,289.0 840.0,290.5 889.8,299.6 943.7,308.7 997.7,314.0 1047.5,319.5 1089.0,322.8 1142.0,327.4"/>
<polyline fill="none" stroke="#a4cf6a" stroke-width="1.1" stroke-linejoin="round" points="4.0,243.8 47.6,233.8 95.0,224.8 143.0,215.2 190.5,208.0 238.0,200.5 260.7,196.2 269.0,197.4 300.0,197.4 350.4,202.4 400.6,206.7 458.0,215.5 501.0,223.0 560.0,233.5 601.5,243.8 643.0,255.9 674.0,264.6 726.0,282.9 780.0,302.0 829.7,318.5 840.0,321.5 889.8,337.8 943.7,359.8 997.7,379.3 1026.7,393.0 1068.0,409.5 1105.6,428.2 1142.0,448.0"/>
<polyline fill="none" stroke="#2a9bd3" stroke-width="1.1" stroke-linejoin="round" points="4.0,181.4 47.6,174.8 90.5,172.0 133.0,166.4 166.7,163.6 202.0,160.5 238.0,156.2 260.7,153.3 274.0,155.2 300.0,160.5 350.4,176.6 400.6,197.9 450.8,225.5 501.0,256.9 538.0,280.0 560.0,296.0 598.4,323.6 627.5,348.5 656.5,375.4 677.0,398.0 702.0,425.0 727.0,452.0 752.0,479.0 777.0,512.0 799.7,544.7 818.8,560.0 833.6,569.3 848.5,576.5 880.0,582.0 910.0,589.4 944.0,599.5 953.0,598.4 980.0,601.2 1000.0,601.4 1018.0,603.5 1052.0,603.5 1074.0,605.3 1105.7,609.0 1142.5,613.7"/>
<polyline fill="none" stroke="#c63cb5" stroke-width="1.1" stroke-linejoin="round" points="4.0,169.3 47.6,162.9 95.0,155.2 133.0,149.8 166.7,144.5 202.0,141.4 238.0,137.4 259.5,136.2 264.0,137.0 269.5,139.0 275.0,141.4 300.0,157.7 325.0,177.8 350.0,200.4 375.0,225.5 400.0,253.0 425.0,284.5 440.7,313.2 461.5,342.2 474.0,363.0 486.4,385.8 503.0,421.0 519.6,454.3 530.0,475.0 544.5,493.7 561.0,510.3 575.6,525.6 594.3,535.2 619.0,549.7 644.0,566.3 673.0,580.8 689.7,585.0 710.5,593.3 735.4,603.6 760.0,614.0 780.0,619.4 801.7,624.4 818.0,627.5 830.0,630.2 850.0,631.3 870.0,629.7 890.0,626.0 927.0,621.7 980.9,609.6 1000.0,603.5 1020.0,598.0 1037.0,592.0 1055.7,587.9 1074.0,585.1 1089.0,584.2 1105.7,586.4 1124.0,589.7 1142.5,597.5"/>
<polyline fill="none" stroke="#e8e13a" stroke-width="1.1" stroke-linejoin="round" points="4.0,153.7 8.5,153.7 17.5,152.9 26.5,152.3 35.5,151.2 44.5,150.3 53.5,149.1 62.5,147.8 71.5,146.5 80.5,145.5 89.5,144.5 98.5,143.4 107.5,142.0 116.5,140.8 125.5,139.8 134.5,138.5 143.5,137.3 152.5,136.6 161.5,135.6 170.5,134.3 179.5,133.1 188.5,132.4 197.5,132.0 206.5,131.1 215.5,130.4 224.5,129.8 233.5,129.3 242.5,128.3 251.5,127.9 260.5,127.4 265.0,130.0 270.0,141.0 275.0,152.7 287.0,176.0 300.0,200.4 312.7,243.0 325.3,285.7 336.6,330.0 340.0,338.7 345.5,367.3 350.4,390.5 359.5,408.0 368.5,422.0 377.5,437.4 386.5,449.7 395.5,459.7 404.5,466.6 413.5,480.4 422.5,488.6 431.5,492.6 440.5,499.9 449.5,510.8 458.5,519.3 467.5,527.1 476.5,535.3 485.5,544.8 494.5,551.1 503.5,549.0 512.5,551.5 521.5,555.8 530.5,558.2 539.5,560.9 548.5,567.4 557.5,573.6 566.5,576.8 575.5,580.0 584.5,582.4 593.5,583.0 602.5,586.2 611.5,592.1 620.5,596.8 629.5,600.3 638.5,599.5 647.5,601.7 656.5,606.3 665.5,610.3 674.5,613.7 683.5,617.8 692.5,621.9 701.5,625.2 710.5,628.8 719.5,633.0 728.5,637.5 737.5,641.6 746.5,644.0 755.5,647.3 764.5,650.3 773.5,652.4 782.5,654.0 791.5,654.5 800.5,654.8 809.5,655.1 818.5,654.1 827.5,647.7 836.5,642.8 845.5,638.0 854.5,632.0 863.5,624.7 872.5,615.0 881.5,604.7 890.5,596.8 899.5,589.3 908.5,582.2 917.5,582.9 926.5,581.1 935.5,578.1 944.5,575.5 953.5,574.2 962.5,576.9 971.5,580.0 980.5,579.9 989.5,579.2 998.5,578.9 1007.5,576.1 1016.5,574.4 1025.5,573.5 1034.5,574.3 1043.5,576.2 1052.5,575.5 1061.5,576.8 1070.5,579.6 1079.5,585.7 1088.5,592.9 1097.5,600.1 1106.5,607.5 1115.5,614.2 1124.5,622.8 1133.5,631.9 1142.5,643.1"/>
<polyline fill="none" stroke="#cfcfd2" stroke-width="1.1" stroke-linejoin="round" points="4.0,152.8 8.5,152.4 17.5,150.9 26.5,149.8 35.5,148.1 44.5,147.0 53.5,145.8 62.5,144.8 71.5,143.2 80.5,142.9 89.5,142.0 98.5,141.0 107.5,139.2 116.5,138.4 125.5,136.6 134.5,135.0 143.5,133.7 152.5,134.0 161.5,132.8 170.5,132.0 179.5,131.2 188.5,131.0 197.5,129.9 206.5,129.4 215.5,128.8 224.5,128.4 233.5,127.5 242.5,126.7 251.5,126.4 260.5,126.0 269.5,160.3 278.5,196.9 287.5,240.4 296.5,283.9 305.5,330.6 314.5,358.5 323.5,390.1 332.5,413.7 341.5,439.7 350.5,462.2 359.5,462.0 368.5,463.0 377.5,461.0 386.5,459.7 395.5,457.2 404.5,471.1 413.5,497.8 422.5,516.2 431.5,525.6 440.5,542.7 449.5,550.5 458.5,540.7 467.5,538.0 476.5,544.9 485.5,546.8 494.5,551.7 503.5,557.2 512.5,565.0 521.5,566.6 530.5,569.7 539.5,570.0 548.5,577.6 557.5,582.2 566.5,587.0 575.5,590.4 584.5,594.8 593.5,588.5 602.5,590.3 611.5,597.2 620.5,603.1 629.5,605.8 638.5,610.6 647.5,613.0 656.5,615.4 665.5,617.5 674.5,621.6 683.5,625.0 692.5,630.7 701.5,635.1 710.5,640.0 719.5,644.4 728.5,650.0 737.5,652.4 746.5,652.8 755.5,654.7 764.5,656.1 773.5,654.8 782.5,655.7 791.5,656.2 800.5,654.8 809.5,654.1 818.5,653.4 827.5,639.7 836.5,629.4 845.5,621.3 854.5,609.9 863.5,596.0 872.5,590.2 881.5,580.0 890.5,572.3 899.5,568.7 908.5,568.4 917.5,575.6 926.5,582.2 935.5,584.0 944.5,582.4 953.5,580.1 962.5,578.2 971.5,577.8 980.5,575.8 989.5,576.0 998.5,577.7 1007.5,574.0 1016.5,571.0 1025.5,571.2 1034.5,572.6 1043.5,574.8 1052.5,577.0 1061.5,582.7 1070.5,588.0 1079.5,598.8 1088.5,611.0 1097.5,623.3 1106.5,632.2 1115.5,640.4 1124.5,646.8 1133.5,652.8 1142.5,663.0"/>
<path d="M4 691.5H1253" stroke="#ee4a45" stroke-width="1" stroke-dasharray="5 2" fill="none"/>
<path d="M4 92.1L1253.5 285.8" stroke="#f7232f" stroke-width="3.4" fill="none"/>
<path d="M4 205.8L740 83.6" stroke="#f7232f" stroke-width="3.4" fill="none"/>
<path d="M4 290.5L1253.5 490.5" stroke="#f7232f" stroke-width="3.4" fill="none"/>
<path d="M251.7 361.7L854.4 720.1" stroke="#fa4f54" stroke-width="3.6" fill="none"/>
<path d="M278 620.5L1253.5 671.5" stroke="#fa4f54" stroke-width="3.4" fill="none"/>
<path d="M4 208.5L232.5 172.9" stroke="#fff" stroke-width="3" stroke-dasharray="2 2" fill="none"/>
</g>
<text x="272.6" y="127.6" font-size="10" fill="#bdbfc4" textLength="8.4" lengthAdjust="spacingAndGlyphs" font-family="DejaVu Sans,sans-serif" stroke="#bdbfc4" stroke-width="0.22">←</text>
<text x="284" y="127" font-size="11" fill="#bdbfc4" textLength="46.4" lengthAdjust="spacingAndGlyphs" stroke="#bdbfc4" stroke-width="0.3">0.031996</text>
<text x="1080.8" y="699.2" font-size="11" fill="#bdbfc4" textLength="46.4" lengthAdjust="spacingAndGlyphs" stroke="#bdbfc4" stroke-width="0.3">0.009108</text>
<text x="1130.6" y="699.6" font-size="10" fill="#bdbfc4" textLength="8.4" lengthAdjust="spacingAndGlyphs" font-family="DejaVu Sans,sans-serif" stroke="#bdbfc4" stroke-width="0.22">→</text>
<rect x="1254" y="681" width="6" height="20" fill="#b9433f"/>
<rect x="1253" y="691" width="6" height="1" fill="#fff"/>
<rect x="1254" y="870" width="6" height="20" fill="#d9952a"/>
</g><g id="chart-volume">
<text x="8" y="742.2" font-size="11" fill="#cdd0d5" textLength="42.6" lengthAdjust="spacingAndGlyphs"  stroke="#cdd0d5" stroke-width="0.22">VOLUME</text>
<rect x="56" y="732" width="14" height="14" fill="#2c3440"/>
<rect x="75" y="732" width="14" height="14" fill="#2c3440"/>
<circle cx="63" cy="739" r="3.7" fill="#1e2128"/>
<path d="M63 733.7V744.3M57.7 739H68.3M59.25 735.25L66.75 742.75M66.75 735.25L59.25 742.75" stroke="#1e2128" stroke-width="2.1" fill="none"/>
<circle cx="63" cy="739" r="1.7" fill="#2c3440"/>
<path d="M77.8 734.8L86.2 743.2M86.2 734.8L77.8 743.2" stroke="#1e2128" stroke-width="2" fill="none"/>
<text x="94.1" y="742.2" font-size="11" fill="#cdd0d5" textLength="121.3" lengthAdjust="spacingAndGlyphs"  stroke="#cdd0d5" stroke-width="0.22">VOLUME:7,682,900.7200</text>
<text x="220.6" y="742.2" font-size="11" fill="#cdd0d5" textLength="114.8" lengthAdjust="spacingAndGlyphs"  stroke="#cdd0d5" stroke-width="0.22">MA(5):38,244,023.5800</text>
<text x="340.6" y="742.2" font-size="11" fill="#e8e13a" textLength="121.8" lengthAdjust="spacingAndGlyphs"  stroke="#e8e13a" stroke-width="0.55">MA(10):40,907,820.9490</text>
<rect x="5.5" y="835.5" width="6" height="54" fill="none" stroke="#22c073" stroke-width="1"/>
<rect x="14.5" y="819.5" width="6" height="70" fill="none" stroke="#22c073" stroke-width="1"/>
<rect x="23.0" y="839" width="7" height="50.5" fill="#e34a45"/>
<rect x="32.5" y="840.5" width="6" height="49" fill="none" stroke="#22c073" stroke-width="1"/>
<rect x="41.0" y="830" width="7" height="59.5" fill="#e34a45"/>
<rect x="50.5" y="836.5" width="6" height="53" fill="none" stroke="#22c073" stroke-width="1"/>
<rect x="59.5" y="834.5" width="6" height="55" fill="none" stroke="#22c073" stroke-width="1"/>
<rect x="68.5" y="827.5" width="6" height="62" fill="none" stroke="#22c073" stroke-width="1"/>
<rect x="77.0" y="836" width="7" height="53.5" fill="#e34a45"/>
<rect x="86.5" y="834.5" width="6" height="55" fill="none" stroke="#22c073" stroke-width="1"/>
<rect x="95.5" y="811.5" width="6" height="78" fill="none" stroke="#22c073" stroke-width="1"/>
<rect x="104.5" y="829.5" width="6" height="60" fill="none" stroke="#22c073" stroke-width="1"/>
<rect x="113.0" y="828" width="7" height="61.5" fill="#e34a45"/>
<rect x="122.5" y="816.5" width="6" height="73" fill="none" stroke="#22c073" stroke-width="1"/>
<rect x="131.5" y="842.5" width="6" height="47" fill="none" stroke="#22c073" stroke-width="1"/>
<rect x="140.5" y="840.5" width="6" height="49" fill="none" stroke="#22c073" stroke-width="1"/>
<rect x="149.0" y="832" width="7" height="57.5" fill="#e34a45"/>
<rect x="158.5" y="834.5" width="6" height="55" fill="none" stroke="#22c073" stroke-width="1"/>
<rect x="167.5" y="830.5" width="6" height="59" fill="none" stroke="#22c073" stroke-width="1"/>
<rect x="176.5" y="829.5" width="6" height="60" fill="none" stroke="#22c073" stroke-width="1"/>
<rect x="185.0" y="836" width="7" height="53.5" fill="#e34a45"/>
<rect x="194.5" y="838.5" width="6" height="51" fill="none" stroke="#22c073" stroke-width="1"/>
<rect x="203.5" y="834.5" width="6" height="55" fill="none" stroke="#22c073" stroke-width="1"/>
<rect x="212.5" y="832.5" width="6" height="57" fill="none" stroke="#22c073" stroke-width="1"/>
<rect x="221.5" y="824.5" width="6" height="65" fill="none" stroke="#22c073" stroke-width="1"/>
<rect x="230.5" y="830.5" width="6" height="59" fill="none" stroke="#22c073" stroke-width="1"/>
<rect x="239.5" y="839.5" width="6" height="50" fill="none" stroke="#22c073" stroke-width="1"/>
<rect x="248.0" y="840" width="7" height="49.5" fill="#e34a45"/>
<rect x="257.5" y="834.5" width="6" height="55" fill="none" stroke="#22c073" stroke-width="1"/>
<rect x="266.0" y="749" width="7" height="140.5" fill="#e34a45"/>
<rect x="275.0" y="761" width="7" height="128.5" fill="#e34a45"/>
<rect x="284.0" y="813" width="7" height="76.5" fill="#e34a45"/>
<rect x="293.0" y="835" width="7" height="54.5" fill="#e34a45"/>
<rect x="302.0" y="842" width="7" height="47.5" fill="#e34a45"/>
<rect x="311.0" y="785" width="7" height="104.5" fill="#e34a45"/>
<rect x="320.0" y="811" width="7" height="78.5" fill="#e34a45"/>
<rect x="329.5" y="812.5" width="6" height="77" fill="none" stroke="#22c073" stroke-width="1"/>
<rect x="338.0" y="835" width="7" height="54.5" fill="#e34a45"/>
<rect x="347.5" y="842.5" width="6" height="47" fill="none" stroke="#22c073" stroke-width="1"/>
<rect x="356.5" y="842.5" width="6" height="47" fill="none" stroke="#22c073" stroke-width="1"/>
<rect x="365.0" y="835" width="7" height="54.5" fill="#e34a45"/>
<rect x="374.5" y="832.5" width="6" height="57" fill="none" stroke="#22c073" stroke-width="1"/>
<rect x="383.0" y="812" width="7" height="77.5" fill="#e34a45"/>
<rect x="392.5" y="836.5" width="6" height="53" fill="none" stroke="#22c073" stroke-width="1"/>
<rect x="401.0" y="825" width="7" height="64.5" fill="#e34a45"/>
<rect x="410.0" y="794" width="7" height="95.5" fill="#e34a45"/>
<rect x="419.5" y="802.5" width="6" height="87" fill="none" stroke="#22c073" stroke-width="1"/>
<rect x="428.5" y="791.5" width="6" height="98" fill="none" stroke="#22c073" stroke-width="1"/>
<rect x="437.0" y="837" width="7" height="52.5" fill="#e34a45"/>
<rect x="446.0" y="828" width="7" height="61.5" fill="#e34a45"/>
<rect x="455.0" y="845" width="7" height="44.5" fill="#e34a45"/>
<rect x="464.5" y="840.5" width="6" height="49" fill="none" stroke="#22c073" stroke-width="1"/>
<rect x="473.0" y="843" width="7" height="46.5" fill="#e34a45"/>
<rect x="482.0" y="839" width="7" height="50.5" fill="#e34a45"/>
<rect x="491.0" y="844" width="7" height="45.5" fill="#e34a45"/>
<rect x="500.0" y="838" width="7" height="51.5" fill="#e34a45"/>
<rect x="509.5" y="835.5" width="6" height="54" fill="none" stroke="#22c073" stroke-width="1"/>
<rect x="518.5" y="836.5" width="6" height="53" fill="none" stroke="#22c073" stroke-width="1"/>
<rect x="527.0" y="839" width="7" height="50.5" fill="#e34a45"/>
<rect x="536.0" y="834" width="7" height="55.5" fill="#e34a45"/>
<rect x="545.0" y="830" width="7" height="59.5" fill="#e34a45"/>
<rect x="554.5" y="819.5" width="6" height="70" fill="none" stroke="#22c073" stroke-width="1"/>
<rect x="563.5" y="842.5" width="6" height="47" fill="none" stroke="#22c073" stroke-width="1"/>
<rect x="572.0" y="841" width="7" height="48.5" fill="#e34a45"/>
<rect x="581.0" y="845" width="7" height="44.5" fill="#e34a45"/>
<rect x="590.5" y="843.5" width="6" height="46" fill="none" stroke="#22c073" stroke-width="1"/>
<rect x="599.0" y="842" width="7" height="47.5" fill="#e34a45"/>
<rect x="608.0" y="839" width="7" height="50.5" fill="#e34a45"/>
<rect x="617.0" y="849" width="7" height="40.5" fill="#e34a45"/>
<rect x="626.5" y="848.5" width="6" height="41" fill="none" stroke="#22c073" stroke-width="1"/>
<rect x="635.0" y="834" width="7" height="55.5" fill="#e34a45"/>
<rect x="644.5" y="838.5" width="6" height="51" fill="none" stroke="#22c073" stroke-width="1"/>
<rect x="653.0" y="822" width="7" height="67.5" fill="#e34a45"/>
<rect x="662.0" y="837" width="7" height="52.5" fill="#e34a45"/>
<rect x="671.0" y="840" width="7" height="49.5" fill="#e34a45"/>
<rect x="680.0" y="842" width="7" height="47.5" fill="#e34a45"/>
<rect x="689.0" y="844" width="7" height="45.5" fill="#e34a45"/>
<rect x="698.0" y="826" width="7" height="63.5" fill="#e34a45"/>
<rect x="707.0" y="825" width="7" height="64.5" fill="#e34a45"/>
<rect x="716.5" y="835.5" width="6" height="54" fill="none" stroke="#22c073" stroke-width="1"/>
<rect x="725.0" y="828" width="7" height="61.5" fill="#e34a45"/>
<rect x="734.5" y="834.5" width="6" height="55" fill="none" stroke="#22c073" stroke-width="1"/>
<rect x="743.5" y="834.5" width="6" height="55" fill="none" stroke="#22c073" stroke-width="1"/>
<rect x="752.0" y="834" width="7" height="55.5" fill="#e34a45"/>
<rect x="761.5" y="843.5" width="6" height="46" fill="none" stroke="#22c073" stroke-width="1"/>
<rect x="770.5" y="831.5" width="6" height="58" fill="none" stroke="#22c073" stroke-width="1"/>
<rect x="779.0" y="839" width="7" height="50.5" fill="#e34a45"/>
<rect x="788.5" y="841.5" width="6" height="48" fill="none" stroke="#22c073" stroke-width="1"/>
<rect x="797.5" y="838.5" width="6" height="51" fill="none" stroke="#22c073" stroke-width="1"/>
<rect x="806.5" y="844.5" width="6" height="45" fill="none" stroke="#22c073" stroke-width="1"/>
<rect x="815.5" y="850.5" width="6" height="39" fill="none" stroke="#22c073" stroke-width="1"/>
<rect x="824.5" y="828.5" width="6" height="61" fill="none" stroke="#22c073" stroke-width="1"/>
<rect x="833.0" y="837" width="7" height="52.5" fill="#e34a45"/>
<rect x="842.0" y="840" width="7" height="49.5" fill="#e34a45"/>
<rect x="851.5" y="829.5" width="6" height="60" fill="none" stroke="#22c073" stroke-width="1"/>
<rect x="860.5" y="838.5" width="6" height="51" fill="none" stroke="#22c073" stroke-width="1"/>
<rect x="869.5" y="832.5" width="6" height="57" fill="none" stroke="#22c073" stroke-width="1"/>
<rect x="878.5" y="834.5" width="6" height="55" fill="none" stroke="#22c073" stroke-width="1"/>
<rect x="887.0" y="835" width="7" height="54.5" fill="#e34a45"/>
<rect x="896.0" y="842" width="7" height="47.5" fill="#e34a45"/>
<rect x="905.0" y="837" width="7" height="52.5" fill="#e34a45"/>
<rect x="914.0" y="842" width="7" height="47.5" fill="#e34a45"/>
<rect x="923.5" y="838.5" width="6" height="51" fill="none" stroke="#22c073" stroke-width="1"/>
<rect x="932.5" y="840.5" width="6" height="49" fill="none" stroke="#22c073" stroke-width="1"/>
<rect x="941.5" y="839.5" width="6" height="50" fill="none" stroke="#22c073" stroke-width="1"/>
<rect x="950.5" y="842.5" width="6" height="47" fill="none" stroke="#22c073" stroke-width="1"/>
<rect x="959.0" y="836" width="7" height="53.5" fill="#e34a45"/>
<rect x="968.5" y="837.5" width="6" height="52" fill="none" stroke="#22c073" stroke-width="1"/>
<rect x="977.5" y="836.5" width="6" height="53" fill="none" stroke="#22c073" stroke-width="1"/>
<rect x="986.5" y="848.5" width="6" height="41" fill="none" stroke="#22c073" stroke-width="1"/>
<rect x="995.0" y="843" width="7" height="46.5" fill="#e34a45"/>
<rect x="1004.5" y="841.5" width="6" height="48" fill="none" stroke="#22c073" stroke-width="1"/>
<rect x="1013.5" y="836.5" width="6" height="53" fill="none" stroke="#22c073" stroke-width="1"/>
<rect x="1022.0" y="841" width="7" height="48.5" fill="#e34a45"/>
<rect x="1031.0" y="841" width="7" height="48.5" fill="#e34a45"/>
<rect x="1040.0" y="837" width="7" height="52.5" fill="#e34a45"/>
<rect x="1049.5" y="840.5" width="6" height="49" fill="none" stroke="#22c073" stroke-width="1"/>
<rect x="1058.0" y="844" width="7" height="45.5" fill="#e34a45"/>
<rect x="1067.0" y="843" width="7" height="46.5" fill="#e34a45"/>
<rect x="1076.0" y="842" width="7" height="47.5" fill="#e34a45"/>
<rect x="1085.0" y="837" width="7" height="52.5" fill="#e34a45"/>
<rect x="1094.5" y="836.5" width="6" height="53" fill="none" stroke="#22c073" stroke-width="1"/>
<rect x="1103.5" y="840.5" width="6" height="49" fill="none" stroke="#22c073" stroke-width="1"/>
<rect x="1112.0" y="840" width="7" height="49.5" fill="#e34a45"/>
<rect x="1121.0" y="832" width="7" height="57.5" fill="#e34a45"/>
<rect x="1130.0" y="837" width="7" height="52.5" fill="#e34a45"/>
<rect x="1139.0" y="880" width="7" height="9.5" fill="#e34a45"/>
<g clip-path="url(#cv)">
<polyline fill="none" stroke="#cfcfd2" stroke-width="1.1" stroke-linejoin="round" points="4.0,834.6 8.5,834.6 17.5,831.6 26.5,832.5 35.5,833.5 44.5,832.6 53.5,832.8 62.5,835.8 71.5,833.6 80.5,832.8 89.5,833.7 98.5,828.7 107.5,827.5 116.5,827.6 125.5,823.7 134.5,825.2 143.5,831.1 152.5,831.8 161.5,833.2 170.5,836.0 179.5,833.2 188.5,832.4 197.5,833.6 206.5,833.5 215.5,833.8 224.5,832.9 233.5,831.7 242.5,831.9 251.5,833.1 260.5,833.7 269.5,818.7 278.5,804.8 287.5,799.5 296.5,798.5 305.5,800.0 314.5,807.1 323.5,817.2 332.5,817.0 341.5,817.0 350.5,817.1 359.5,828.6 368.5,833.3 377.5,837.4 386.5,832.8 395.5,831.6 404.5,828.1 413.5,820.0 422.5,814.0 431.5,809.8 440.5,809.9 449.5,810.5 458.5,820.7 467.5,828.3 476.5,838.6 485.5,839.1 494.5,842.3 503.5,840.9 512.5,839.7 521.5,838.4 530.5,838.4 539.5,836.4 548.5,834.9 557.5,831.8 566.5,832.8 575.5,833.2 584.5,835.4 593.5,838.0 602.5,842.5 611.5,841.9 620.5,843.5 629.5,844.2 638.5,842.4 647.5,841.7 656.5,838.3 665.5,835.9 674.5,834.2 683.5,835.8 692.5,836.9 701.5,837.7 710.5,835.3 719.5,834.4 728.5,831.6 737.5,829.5 746.5,831.1 755.5,832.9 764.5,834.5 773.5,835.2 782.5,836.2 791.5,837.6 800.5,838.4 809.5,838.6 818.5,842.4 827.5,840.3 836.5,839.4 845.5,839.9 854.5,837.0 863.5,834.4 872.5,835.3 881.5,834.6 890.5,833.5 899.5,836.1 908.5,836.0 917.5,837.9 926.5,838.7 935.5,839.6 944.5,839.0 953.5,840.1 962.5,838.9 971.5,838.7 980.5,838.1 989.5,840.0 998.5,840.1 1007.5,841.2 1016.5,841.0 1025.5,842.0 1034.5,840.6 1043.5,839.4 1052.5,839.3 1061.5,840.8 1070.5,841.1 1079.5,841.3 1088.5,841.3 1097.5,840.5 1106.5,839.8 1115.5,839.2 1124.5,837.2 1133.5,837.2 1142.5,845.9"/>
<polyline fill="none" stroke="#e8e13a" stroke-width="1.1" stroke-linejoin="round" points="4.0,834.6 8.5,834.6 17.5,833.0 26.5,833.5 35.5,834.0 44.5,833.5 53.5,833.7 62.5,833.7 71.5,833.0 80.5,833.1 89.5,833.1 98.5,830.8 107.5,831.7 116.5,830.6 125.5,828.2 134.5,829.5 143.5,829.9 152.5,829.7 161.5,830.4 170.5,829.8 179.5,829.2 188.5,831.7 197.5,832.7 206.5,833.3 215.5,834.9 224.5,833.0 233.5,832.0 242.5,832.7 251.5,833.3 260.5,833.7 269.5,825.8 278.5,818.2 287.5,815.7 296.5,815.8 305.5,816.8 314.5,812.9 323.5,811.0 332.5,808.2 341.5,807.7 350.5,808.5 359.5,817.9 368.5,825.2 377.5,827.2 386.5,824.9 395.5,824.3 404.5,828.4 413.5,826.6 422.5,825.7 431.5,821.3 440.5,820.8 449.5,819.3 458.5,820.3 467.5,821.1 476.5,824.2 485.5,824.5 494.5,826.4 503.5,830.8 512.5,834.0 521.5,838.5 530.5,838.8 539.5,839.4 548.5,837.9 557.5,835.7 566.5,835.6 575.5,835.8 584.5,835.9 593.5,836.4 602.5,837.1 611.5,837.4 620.5,838.3 629.5,839.8 638.5,840.2 647.5,842.1 656.5,840.1 665.5,839.7 674.5,839.2 683.5,839.1 692.5,839.3 701.5,838.0 710.5,835.6 719.5,834.3 728.5,833.7 737.5,833.2 746.5,834.4 755.5,834.1 764.5,834.5 773.5,833.4 782.5,832.9 791.5,834.4 800.5,835.6 809.5,836.5 818.5,838.8 827.5,838.2 836.5,838.5 845.5,839.1 854.5,837.8 863.5,838.4 872.5,837.8 881.5,837.0 890.5,836.7 899.5,836.5 908.5,835.2 917.5,836.6 926.5,836.6 935.5,836.6 944.5,837.5 953.5,838.0 962.5,838.4 971.5,838.7 980.5,838.9 989.5,839.5 998.5,840.1 1007.5,840.0 1016.5,839.9 1025.5,840.1 1034.5,840.3 1043.5,839.8 1052.5,840.2 1061.5,840.9 1070.5,841.6 1079.5,840.9 1088.5,840.3 1097.5,839.9 1106.5,840.3 1115.5,840.1 1124.5,839.2 1133.5,839.2 1142.5,843.2"/>
</g>
</g><g id="indicator-tabs">
<text x="13.7" y="907" font-size="11" fill="#9da1ac" textLength="17.6" lengthAdjust="spacingAndGlyphs"  stroke="#9da1ac" stroke-width="0.22">MA</text>
<text x="40.7" y="907" font-size="11" fill="#9da1ac" textLength="23.6" lengthAdjust="spacingAndGlyphs"  stroke="#9da1ac" stroke-width="0.22">EMA</text>
<text x="73.7" y="907" font-size="11" fill="#3b7fe0" textLength="43.6" lengthAdjust="spacingAndGlyphs"  stroke="#3b7fe0" stroke-width="0.22">VOLUME</text>
<text x="126.7" y="907" font-size="11" fill="#9da1ac" textLength="31.6" lengthAdjust="spacingAndGlyphs"  stroke="#9da1ac" stroke-width="0.22">MACD</text>
<text x="168.2" y="907" font-size="11" fill="#9da1ac" textLength="19.6" lengthAdjust="spacingAndGlyphs"  stroke="#9da1ac" stroke-width="0.22">DMI</text>
<text x="197.7" y="907" font-size="11" fill="#9da1ac" textLength="24.6" lengthAdjust="spacingAndGlyphs"  stroke="#9da1ac" stroke-width="0.22">DMA</text>
<text x="232.2" y="907" font-size="11" fill="#9da1ac" textLength="23.1" lengthAdjust="spacingAndGlyphs"  stroke="#9da1ac" stroke-width="0.22">TRIX</text>
<text x="265.2" y="907" font-size="11" fill="#9da1ac" textLength="28.1" lengthAdjust="spacingAndGlyphs"  stroke="#9da1ac" stroke-width="0.22">BRAR</text>
<text x="303.2" y="907" font-size="11" fill="#9da1ac" textLength="13.6" lengthAdjust="spacingAndGlyphs"  stroke="#9da1ac" stroke-width="0.22">VR</text>
<text x="326.7" y="907" font-size="11" fill="#9da1ac" textLength="21.6" lengthAdjust="spacingAndGlyphs"  stroke="#9da1ac" stroke-width="0.22">OBV</text>
<text x="358.2" y="907" font-size="11" fill="#9da1ac" textLength="23.1" lengthAdjust="spacingAndGlyphs"  stroke="#9da1ac" stroke-width="0.22">EMV</text>
<text x="390.7" y="907" font-size="11" fill="#9da1ac" textLength="16.6" lengthAdjust="spacingAndGlyphs"  stroke="#9da1ac" stroke-width="0.22">RSI</text>
<text x="417.2" y="907" font-size="11" fill="#9da1ac" textLength="16.6" lengthAdjust="spacingAndGlyphs"  stroke="#9da1ac" stroke-width="0.22">WR</text>
<text x="443.7" y="907" font-size="11" fill="#9da1ac" textLength="20.6" lengthAdjust="spacingAndGlyphs"  stroke="#9da1ac" stroke-width="0.22">SAR</text>
<text x="474.2" y="907" font-size="11" fill="#9da1ac" textLength="20.1" lengthAdjust="spacingAndGlyphs"  stroke="#9da1ac" stroke-width="0.22">KDJ</text>
<text x="504.2" y="907" font-size="11" fill="#9da1ac" textLength="21.6" lengthAdjust="spacingAndGlyphs"  stroke="#9da1ac" stroke-width="0.22">ROC</text>
<text x="535.7" y="907" font-size="11" fill="#9da1ac" textLength="25.6" lengthAdjust="spacingAndGlyphs"  stroke="#9da1ac" stroke-width="0.22">MTM</text>
<text x="571.2" y="907" font-size="11" fill="#9da1ac" textLength="26.6" lengthAdjust="spacingAndGlyphs"  stroke="#9da1ac" stroke-width="0.22">BOLL</text>
<text x="607.7" y="907" font-size="11" fill="#9da1ac" textLength="19.6" lengthAdjust="spacingAndGlyphs"  stroke="#9da1ac" stroke-width="0.22">PSY</text>
<text x="637.7" y="907" font-size="11" fill="#9da1ac" textLength="44.6" lengthAdjust="spacingAndGlyphs"  stroke="#9da1ac" stroke-width="0.22">StochRSI</text>
<text x="692.2" y="907" font-size="11" fill="#9da1ac" textLength="19.1" lengthAdjust="spacingAndGlyphs"  stroke="#9da1ac" stroke-width="0.22">SMI</text>
<text x="721.2" y="907" font-size="11" fill="#9da1ac" textLength="17.6" lengthAdjust="spacingAndGlyphs"  stroke="#9da1ac" stroke-width="0.22">CCI</text>
<text x="748.7" y="907" font-size="11" fill="#9da1ac" textLength="18.6" lengthAdjust="spacingAndGlyphs"  stroke="#9da1ac" stroke-width="0.22">MFI</text>
<text x="777.7" y="907" font-size="11" fill="#9da1ac" textLength="19.6" lengthAdjust="spacingAndGlyphs"  stroke="#9da1ac" stroke-width="0.22">ATR</text>
<text x="807.2" y="907" font-size="11" fill="#9da1ac" textLength="23.6" lengthAdjust="spacingAndGlyphs"  stroke="#9da1ac" stroke-width="0.22">BBW</text>
<text x="840.7" y="907" font-size="11" fill="#9da1ac" textLength="26.6" lengthAdjust="spacingAndGlyphs"  stroke="#9da1ac" stroke-width="0.22">SKDJ</text>
<text x="877.7" y="907" font-size="11" fill="#9da1ac" textLength="23.1" lengthAdjust="spacingAndGlyphs"  stroke="#9da1ac" stroke-width="0.22">BIAS</text>
<text x="910.7" y="907" font-size="11" fill="#9da1ac" textLength="21.6" lengthAdjust="spacingAndGlyphs"  stroke="#9da1ac" stroke-width="0.22">DPO</text>
<text x="942.7" y="907" font-size="11" fill="#9da1ac" textLength="14.6" lengthAdjust="spacingAndGlyphs"  stroke="#9da1ac" stroke-width="0.22">AO</text>
<text x="967.2" y="907" font-size="11" fill="#9da1ac" textLength="40.1" lengthAdjust="spacingAndGlyphs"  stroke="#9da1ac" stroke-width="0.22">Position</text>
<text x="1017.2" y="907" font-size="11" fill="#9da1ac" textLength="45.1" lengthAdjust="spacingAndGlyphs"  stroke="#9da1ac" stroke-width="0.22">Fundflow</text>
<text x="1072.7" y="907" font-size="11" fill="#9da1ac" textLength="50.1" lengthAdjust="spacingAndGlyphs"  stroke="#9da1ac" stroke-width="0.22">AI-NetVOL</text>
<text x="1133.2" y="907" font-size="11" fill="#9da1ac" textLength="26.1" lengthAdjust="spacingAndGlyphs"  stroke="#9da1ac" stroke-width="0.22">LSUR</text>
<text x="1169.7" y="907" font-size="11" fill="#9da1ac" textLength="30.1" lengthAdjust="spacingAndGlyphs"  stroke="#9da1ac" stroke-width="0.22">BASIS</text>
</g></svg></body></html>
